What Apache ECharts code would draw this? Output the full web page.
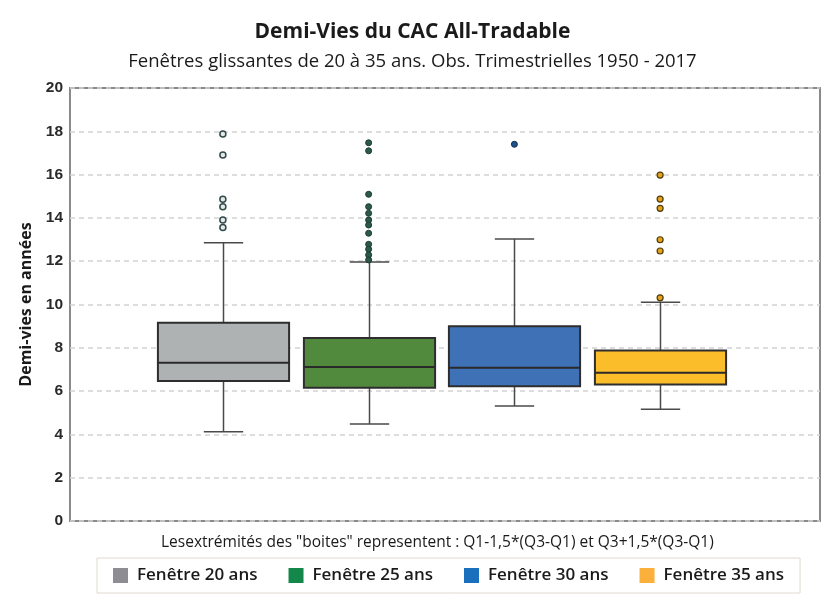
<!DOCTYPE html>
<html>
<head>
<meta charset="utf-8">
<script src="https://cdn.jsdelivr.net/npm/echarts@6/dist/echarts.min.js"></script>
<style>
  html, body { margin: 0; padding: 0; background: #fff; }
  #main { width: 825px; height: 598px; }
</style>
</head>
<body>
<div id="main"></div>
<script>
// fenêtres glissantes (catégories)
var categories = ['Fenêtre 20 ans', 'Fenêtre 25 ans', 'Fenêtre 30 ans', 'Fenêtre 35 ans'];
// moustaches et quartiles (en années)
var lowWhisker = [4.12, 4.48, 5.31, 5.16];
var q1 = [6.47, 6.16, 6.22, 6.31];
var median = [7.31, 7.11, 7.08, 6.85];
var q3 = [9.16, 8.45, 8.99, 7.88];
var highWhisker = [12.85, 11.96, 13.03, 10.10];
// valeurs atypiques
var outliers20 = [17.87, 16.9, 14.86, 14.52, 13.9, 13.56];
var outliers25 = [17.47, 17.1, 15.09, 14.52, 14.21, 13.9, 13.67, 13.29, 12.78, 12.55, 12.29, 12.06];
var outliers30 = [17.4];
var outliers35 = [15.98, 14.87, 14.44, 12.99, 12.47, 10.31];
var yMin = 0, yMax = 20, yStep = 2;

var boxColors = ['#afb2b3', '#518a3c', '#3e71b6', '#fcbd2a'];
var legendColors = ['#8e8e92', '#13884a', '#1b70bd', '#fbb03b'];
var outlierStyles = [
  { color: '#e6e8e8', borderColor: '#2f4a4a', borderWidth: 1.5, opacity: 1 },
  { color: '#2c5a48', borderColor: '#1e3a30', borderWidth: 1, opacity: 1 },
  { color: '#1f4f8c', borderColor: '#0e2c50', borderWidth: 1, opacity: 1 },
  { color: '#e3a41c', borderColor: '#4f3a0c', borderWidth: 1.2, opacity: 1 }
];
var allOutliers = [outliers20, outliers25, outliers30, outliers35];

var boxData = categories.map(function (c, i) {
  return [i, lowWhisker[i], q1[i], median[i], q3[i], highWhisker[i]];
});

function renderBox(params, api) {
  var idx = api.value(0);
  var band = api.size([1, 0])[0];
  var boxW = band * 0.9;
  var capW = band * 0.27;
  var lo = api.coord([idx, api.value(1)]);
  var b1 = api.coord([idx, api.value(2)]);
  var md = api.coord([idx, api.value(3)]);
  var b3 = api.coord([idx, api.value(4)]);
  var hi = api.coord([idx, api.value(5)]);
  var x = Math.round(lo[0]) + 0.5;
  var ws = { stroke: '#4a4a4a', lineWidth: 1.5 };
  return {
    type: 'group',
    children: [
      { type: 'line', shape: { x1: x, y1: hi[1], x2: x, y2: b3[1] }, style: ws },
      { type: 'line', shape: { x1: x, y1: b1[1], x2: x, y2: lo[1] }, style: ws },
      { type: 'line', shape: { x1: x - capW / 2, y1: hi[1], x2: x + capW / 2, y2: hi[1] }, style: ws },
      { type: 'line', shape: { x1: x - capW / 2, y1: lo[1], x2: x + capW / 2, y2: lo[1] }, style: ws },
      { type: 'rect', shape: { x: x - boxW / 2, y: b3[1], width: boxW, height: b1[1] - b3[1] },
        style: { fill: boxColors[idx], stroke: '#2e2e2e', lineWidth: 2 } },
      { type: 'line', shape: { x1: x - boxW / 2, y1: md[1], x2: x + boxW / 2, y2: md[1] },
        style: { stroke: '#2a2a2a', lineWidth: 2 } }
    ]
  };
}

var myChart = echarts.init(document.getElementById('main'));

var series = [{
  type: 'custom',
  name: 'boites',
  xAxisIndex: 1,
  yAxisIndex: 1,
  renderItem: renderBox,
  encode: { x: 0, y: [1, 2, 3, 4, 5] },
  data: boxData,
  z: 2
}];
categories.forEach(function (c, i) {
  series.push({
    type: 'scatter',
    name: c,
    xAxisIndex: 1,
    yAxisIndex: 1,
    symbol: 'circle',
    symbolSize: 6,
    itemStyle: outlierStyles[i],
    data: allOutliers[i].map(function (v) { return [i, v]; }),
    z: 3
  });
});

var option = {
  backgroundColor: '#fff',
  animation: false,
  title: [{
    text: 'Demi-Vies du CAC All-Tradable',
    subtext: 'Fenêtres glissantes de 20 à 35 ans. Obs. Trimestrielles 1950 - 2017',
    left: 'center',
    top: 17,
    itemGap: 9,
    textStyle: { fontFamily: 'Open Sans', fontSize: 21, fontWeight: 'bold', color: '#1a1a1a' },
    subtextStyle: { fontFamily: 'Open Sans', fontSize: 18.5, color: '#1a1a1a' }
  }, {
    text: 'Lesextrémités des "boites" representent : Q1-1,5*(Q3-Q1) et Q3+1,5*(Q3-Q1)',
    left: 156,
    top: 530,
    textStyle: { fontFamily: 'Open Sans', fontSize: 15.5, fontWeight: 'normal', color: '#1a1a1a' }
  }],
  legend: {
    left: 97,
    top: 558,
    padding: [9, 16],
    borderColor: '#e0d8d0',
    borderWidth: 1,
    icon: 'rect',
    itemWidth: 15,
    itemHeight: 15,
    itemGap: 31,
    textStyle: { fontFamily: 'Open Sans', fontSize: 17, fontWeight: 600, color: '#1a1a1a', padding: [0, 0, 0, 4] },
    data: categories.map(function (c, i) {
      return { name: c, itemStyle: { color: legendColors[i], borderWidth: 0, opacity: 1 } };
    })
  },
  grid: [
    { left: 70, right: 5, top: 88, bottom: 77, show: true, borderColor: '#8a8a8a', borderWidth: 2 },
    { left: 150, width: 583, top: 88, bottom: 77 }
  ],
  xAxis: [
    { type: 'category', gridIndex: 0, data: categories, show: false },
    { type: 'category', gridIndex: 1, data: categories, show: false }
  ],
  yAxis: [{
    type: 'value',
    gridIndex: 0,
    min: yMin,
    max: yMax,
    interval: yStep,
    name: 'Demi-vies en années',
    nameLocation: 'middle',
    nameGap: 36,
    nameTextStyle: { fontFamily: 'Open Sans', fontSize: 16, fontWeight: 'bold', color: '#1a1a1a' },
    axisLine: { show: false },
    axisTick: { show: false },
    axisLabel: { fontFamily: 'Liberation Sans', fontSize: 15.5, fontWeight: 'bold', color: '#2a2a2a', margin: 7 },
    splitLine: { lineStyle: { color: '#d2d2d2', type: [5, 4], width: 1.5 } }
  }, {
    type: 'value',
    gridIndex: 1,
    min: yMin,
    max: yMax,
    interval: yStep,
    show: false,
    splitLine: { show: false }
  }],
  series: series
};

myChart.setOption(option);
</script>
</body>
</html>
